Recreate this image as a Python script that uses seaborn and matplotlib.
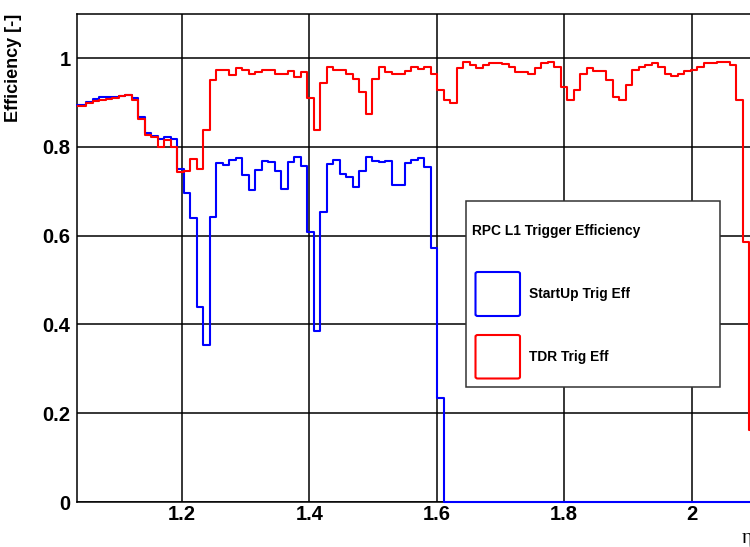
import numpy as np
import pandas as pd
import matplotlib
matplotlib.use("Agg")
import matplotlib.pyplot as plt
import seaborn as sns
from matplotlib.patches import Rectangle, FancyBboxPatch
from matplotlib.ticker import MultipleLocator, FuncFormatter

# bin edges in eta: first (partial) bin starts at the axis edge
bin_edges = np.concatenate([[1.035], np.linspace(1.05, 2.1, 104)])

# TDR trigger efficiency per bin
tdr_eff = [
    0.893, 0.898, 0.903, 0.906, 0.908, 0.911, 0.915, 0.916, 0.905, 0.862,
    0.827, 0.822, 0.800, 0.815, 0.800, 0.744, 0.745, 0.773, 0.750, 0.838,
    0.950, 0.973, 0.973, 0.962, 0.977, 0.974, 0.964, 0.969, 0.974, 0.974,
    0.963, 0.965, 0.970, 0.957, 0.969, 0.909, 0.838, 0.943, 0.979, 0.974,
    0.974, 0.965, 0.953, 0.924, 0.875, 0.953, 0.979, 0.969, 0.964, 0.964,
    0.971, 0.980, 0.976, 0.979, 0.965, 0.928, 0.905, 0.898, 0.977, 0.990,
    0.984, 0.977, 0.984, 0.989, 0.989, 0.986, 0.980, 0.968, 0.968, 0.965,
    0.977, 0.988, 0.992, 0.980, 0.935, 0.905, 0.928, 0.964, 0.977, 0.971,
    0.971, 0.950, 0.913, 0.905, 0.939, 0.974, 0.979, 0.984, 0.988, 0.979,
    0.964, 0.959, 0.965, 0.971, 0.974, 0.980, 0.988, 0.988, 0.990, 0.990,
    0.984, 0.906, 0.586, 0.162,
]

# StartUp trigger efficiency per bin
startup_eff = [
    0.895, 0.902, 0.908, 0.912, 0.913, 0.912, 0.914, 0.916, 0.910, 0.868,
    0.830, 0.825, 0.818, 0.822, 0.818, 0.749, 0.695, 0.639, 0.440, 0.354,
    0.643, 0.763, 0.760, 0.770, 0.774, 0.736, 0.703, 0.748, 0.767, 0.766,
    0.745, 0.705, 0.765, 0.776, 0.757, 0.607, 0.385, 0.654, 0.762, 0.770,
    0.738, 0.731, 0.710, 0.746, 0.776, 0.767, 0.765, 0.768, 0.714, 0.713,
    0.763, 0.770, 0.775, 0.755, 0.572, 0.234,
] + [0.0] * 48

x_ticks = [1.2, 1.4, 1.6, 1.8, 2.0]
y_ticks = [0, 0.2, 0.4, 0.6, 0.8, 1.0]

W, H = 750, 547


def fx(x):
    return x / W


def fy(y):
    return 1 - y / H


def steps(vals):
    # steps-post needs the last value repeated at the last edge
    return pd.DataFrame({"eta": bin_edges, "eff": list(vals) + [vals[-1]]})


sns.set_style("white")
plt.rcParams["font.family"] = ["Liberation Sans", "DejaVu Sans"]
plt.rcParams["font.weight"] = "bold"
plt.rcParams["text.color"] = "black"
plt.rcParams["axes.labelcolor"] = "black"

fig = plt.figure(figsize=(7.5, 5.47), dpi=100)
ax = fig.add_axes([fx(76.5), fy(502), fx(755.5) - fx(76.5), fy(13.6) - fy(502)])

sns.lineplot(data=steps(startup_eff), x="eta", y="eff", ax=ax, color="#0000ff",
             lw=1.5, drawstyle="steps-post", clip_on=False, zorder=4)
sns.lineplot(data=steps(tdr_eff), x="eta", y="eff", ax=ax, color="#ff0000",
             lw=1.5, drawstyle="steps-post", zorder=5)

ax.set_xlim(1.035, 2.1)
ax.set_ylim(0, 1.1)
ax.set_xticks(x_ticks)
ax.set_yticks(y_ticks)
ax.xaxis.set_minor_locator(MultipleLocator(0.05))
ax.yaxis.set_minor_locator(MultipleLocator(0.05))
fmt = FuncFormatter(lambda v, p: "%g" % v)
ax.xaxis.set_major_formatter(fmt)
ax.yaxis.set_major_formatter(fmt)
ax.grid(True, which="major", color="black", lw=1.1)
ax.set_axisbelow(True)
for s in ax.spines.values():
    s.set_color("black")
    s.set_linewidth(1.1)

ax.tick_params(axis="both", which="both", direction="in", labelsize=14.5,
               colors="black", width=1.0)
ax.tick_params(axis="x", which="major", length=12, pad=2.5)
ax.tick_params(axis="x", which="minor", length=5)
ax.tick_params(axis="y", which="major", length=12, pad=4.3)
ax.tick_params(axis="y", which="minor", length=7.5)
for lab in ax.get_xticklabels() + ax.get_yticklabels():
    lab.set_fontweight("bold")

ax.set_xlabel("")
ax.set_ylabel("Efficiency [-]", fontsize=13, fontweight="bold", loc="top", color="black")
ax.yaxis.set_label_coords((22 - 76.5) / (755.5 - 76.5), 1.0)

fig.text(fx(741.5), fy(539), "η", fontsize=15, family="Liberation Serif",
         fontweight="normal", ha="left", va="center")

# legend box drawn by hand, ROOT TLegend style
fig.add_artist(Rectangle((fx(466), fy(387.3)), fx(720) - fx(466), fy(200.7) - fy(387.3),
                         transform=fig.transFigure, fc="white", ec="#333333", lw=1.1, zorder=10))
fig.text(fx(472), fy(231.5), "RPC L1 Trigger Efficiency", fontsize=9.9, fontweight="bold",
         ha="left", va="center", zorder=11)
for (y0, y1), col, lab in [((272, 316), "#0000ff", "StartUp Trig Eff"),
                           ((335, 378.5), "#ff0000", "TDR Trig Eff")]:
    fig.add_artist(FancyBboxPatch((fx(475.5), fy(y1)), fx(520) - fx(475.5), fy(y0) - fy(y1),
                                  boxstyle="round,pad=0,rounding_size=0.003",
                                  transform=fig.transFigure, fc="none", ec=col, lw=1.5, zorder=11))
    fig.text(fx(529), fy((y0 + y1) / 2), lab, fontsize=9.9, fontweight="bold",
             ha="left", va="center", zorder=11)

fig.savefig("out.png", dpi=100)
